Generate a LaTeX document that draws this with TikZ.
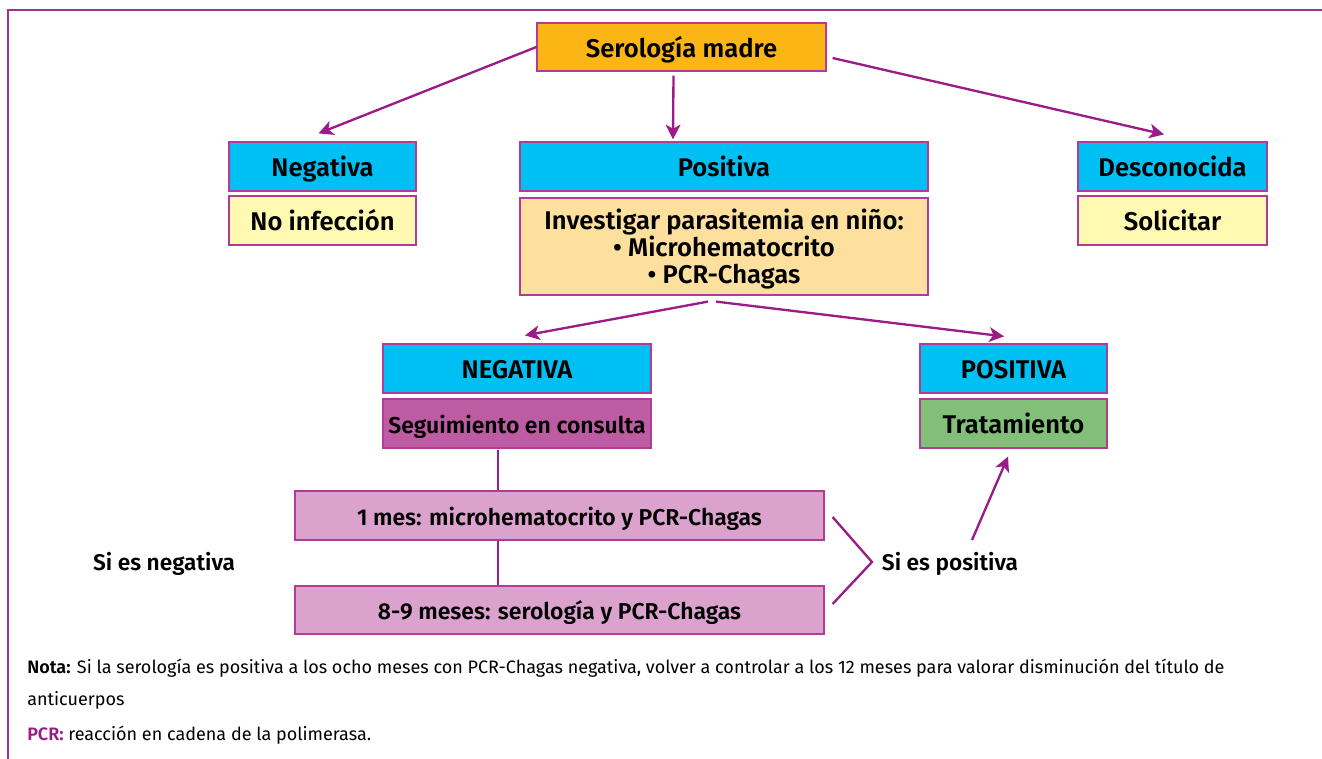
\documentclass[tikz,border=0pt]{standalone}
\usepackage{fontspec}
\setmainfont{Fira Sans}[BoldFont={Fira Sans SemiBold}]
\usetikzlibrary{arrows.meta,calc}
\definecolor{frame}{HTML}{A3308E}
\definecolor{arr}{HTML}{9B1B87}
\definecolor{boxedge}{HTML}{B33A95}
\definecolor{fillorange}{HTML}{FBB616}
\definecolor{fillcyan}{HTML}{00BFF3}
\definecolor{fillyellow}{HTML}{FFF9B1}
\definecolor{fillpeach}{HTML}{FDE09E}
\definecolor{fillpurple}{HTML}{BD5BA3}
\definecolor{fillgreen}{HTML}{82C07A}
\definecolor{fillpink}{HTML}{DBA2CD}
\tikzset{
  box/.style={draw=boxedge, line width=0.9pt, inner sep=0pt, align=center,
    minimum height=36.75pt, text height=15.6pt, text depth=0pt,
    font=\bfseries\fontsize{19.2}{21}\selectfont},
  small/.style={font=\bfseries\fontsize{17.2}{19}\selectfont, text height=14.6pt},
  arrowline/.style={draw=arr, line width=1.75pt, -{Stealth[length=11pt,width=11pt,inset=3pt]}},
  plainline/.style={draw=arr, line width=1.75pt},
  lbl/.style={inner sep=0pt, text height=13pt, text depth=0pt, font=\bfseries\fontsize{17}{19}\selectfont},
  note/.style={inner sep=0pt, anchor=west, font=\fontsize{13.5}{15}\selectfont}
}
\begin{document}
\begin{tikzpicture}[x=0.75pt,y=-0.75pt]
\useasboundingbox (0,0) rectangle (1322,759);
% frame
\draw[frame, line width=1pt] (1322,10) -- (8,10) -- (8,759);
% boxes
\node[box, fill=fillorange, minimum width=216.75pt, minimum height=36pt] (madre) at (681.5,47) {Serología madre};
\node[box, fill=fillcyan, minimum width=140.25pt] (neg) at (322.5,166.5) {Negativa};
\node[box, fill=fillyellow, minimum width=140.25pt] (noinf) at (322.5,220.5) {No infección};
\node[box, fill=fillcyan, minimum width=306pt] (pos) at (724,166.5) {Positiva};
\node[box, fill=fillpeach, minimum width=306pt, minimum height=72.75pt, text height=0pt] (inv) at (724,246.5) {};
\node[inner sep=0pt, align=center, font=\bfseries\fontsize{19.2}{20}\selectfont] (invtext) at (724,249) {Investigar parasitemia en niño:\\• Microhematocrito\\• PCR-Chagas};
\node[box, fill=fillcyan, minimum width=141.75pt] (desc) at (1172.5,166.5) {Desconocida};
\node[box, fill=fillyellow, minimum width=141.75pt] (sol) at (1172.5,220.5) {Solicitar};
\node[box, fill=fillcyan, minimum width=201pt] (negc) at (517,368.5) {NEGATIVA};
\node[box, small, fill=fillpurple, minimum width=201pt] (seg) at (517,423.5) {Seguimiento en consulta};
\node[box, fill=fillcyan, minimum width=140.25pt] (posc) at (1013.5,368.5) {POSITIVA};
\node[box, fill=fillgreen, minimum width=140.25pt] (trat) at (1013.5,423.5) {Tratamiento};
\node[box, small, fill=fillpink, minimum width=396.75pt] (m1) at (559.5,515.5) {1 mes: microhematocrito y PCR-Chagas};
\node[box, small, fill=fillpink, minimum width=396.75pt, minimum height=36pt] (m9) at (559.5,610) {8-9 meses: serología y PCR-Chagas};
% labels
\node[lbl] (sineg) at (164,562) {Si es negativa};
\node[lbl] (sipos) at (950,562) {Si es positiva};
% arrows
\draw[arrowline] (madre.west) -- ($(neg.north)+(-4,-8)$);
\draw[arrowline] ($(madre.south)+(-8,4)$) -- ($(pos.north)+(-51,-2)$);
\draw[arrowline] ($(madre.east)+(6,11)$) -- ($(desc.north)+(-8.5,-7)$);
\draw[arrowline] ($(inv.south)+(-16,6)$) -- ($(negc.north)+(8,-8)$);
\draw[arrowline] ($(inv.south)+(-8,6)$) -- ($(posc.north)+(-9.5,-7)$);
\draw[plainline] ($(seg.south)+(-19,1)$) -- ($(m1.north)+(-61.5,0)$);
\draw[plainline] ($(m1.south)+(-61.5,0)$) -- ($(m9.north)+(-61.5,0)$);
\coordinate (bmid) at (872,562);
\draw[plainline] ($(m1.east)+(8,1.5)$) -- (bmid) -- ($(m9.east)+(8,-6)$);
\draw[arrowline] ($(sipos.north)+(22,-13)$) -- ($(trat.south)+(-5.5,8)$);
% notes
\node[note] (nota) at (27,668) {\textbf{Nota:} Si la serología es positiva a los ocho meses con PCR-Chagas negativa, volver a controlar a los 12 meses para valorar disminución del título de};
\node[note] (nota2) at (27,700) {anticuerpos};
\node[note] (pcr) at (27,735) {\textbf{\textcolor{arr}{PCR:}} reacción en cadena de la polimerasa.};
\end{tikzpicture}
\end{document}
